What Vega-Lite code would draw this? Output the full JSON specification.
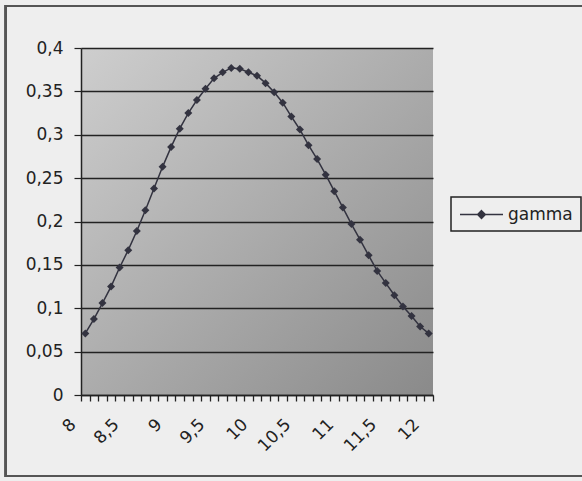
{
  "$schema": "https://vega.github.io/schema/vega-lite/v6.json",
  "autosize": {"type": "none"},
  "width": 352,
  "height": 347,
  "padding": {"left": 81, "top": 48, "right": 149, "bottom": 86},
  "background": "#eeeeee",
  "config": {
    "font": "DejaVu Sans",
    "view": {
      "stroke": null,
      "fill": {"gradient": "linear", "x1": 0, "y1": 0, "x2": 1, "y2": 1,
        "stops": [{"offset": 0, "color": "#cecece"}, {"offset": 1, "color": "#8a8a8a"}]}
    },
    "axis": {
      "labelFont": "DejaVu Sans",
      "labelFontSize": 17,
      "labelColor": "#222222",
      "domainColor": "#222222",
      "domainWidth": 1.5,
      "tickColor": "#222222",
      "tickWidth": 1.2,
      "title": null
    }
  },
  "data": {
    "values": [
      {"x": 8.0, "y": 0.071, "series": "gamma"},
      {"x": 8.1, "y": 0.0875, "series": "gamma"},
      {"x": 8.2, "y": 0.106, "series": "gamma"},
      {"x": 8.3, "y": 0.125, "series": "gamma"},
      {"x": 8.4, "y": 0.147, "series": "gamma"},
      {"x": 8.5, "y": 0.167, "series": "gamma"},
      {"x": 8.6, "y": 0.189, "series": "gamma"},
      {"x": 8.7, "y": 0.213, "series": "gamma"},
      {"x": 8.8, "y": 0.238, "series": "gamma"},
      {"x": 8.9, "y": 0.263, "series": "gamma"},
      {"x": 9.0, "y": 0.286, "series": "gamma"},
      {"x": 9.1, "y": 0.307, "series": "gamma"},
      {"x": 9.2, "y": 0.325, "series": "gamma"},
      {"x": 9.3, "y": 0.340, "series": "gamma"},
      {"x": 9.4, "y": 0.353, "series": "gamma"},
      {"x": 9.5, "y": 0.365, "series": "gamma"},
      {"x": 9.6, "y": 0.372, "series": "gamma"},
      {"x": 9.7, "y": 0.377, "series": "gamma"},
      {"x": 9.8, "y": 0.376, "series": "gamma"},
      {"x": 9.9, "y": 0.372, "series": "gamma"},
      {"x": 10.0, "y": 0.368, "series": "gamma"},
      {"x": 10.1, "y": 0.3595, "series": "gamma"},
      {"x": 10.2, "y": 0.349, "series": "gamma"},
      {"x": 10.3, "y": 0.337, "series": "gamma"},
      {"x": 10.4, "y": 0.321, "series": "gamma"},
      {"x": 10.5, "y": 0.306, "series": "gamma"},
      {"x": 10.6, "y": 0.288, "series": "gamma"},
      {"x": 10.7, "y": 0.272, "series": "gamma"},
      {"x": 10.8, "y": 0.254, "series": "gamma"},
      {"x": 10.9, "y": 0.235, "series": "gamma"},
      {"x": 11.0, "y": 0.216, "series": "gamma"},
      {"x": 11.1, "y": 0.197, "series": "gamma"},
      {"x": 11.2, "y": 0.179, "series": "gamma"},
      {"x": 11.3, "y": 0.161, "series": "gamma"},
      {"x": 11.4, "y": 0.143, "series": "gamma"},
      {"x": 11.5, "y": 0.129, "series": "gamma"},
      {"x": 11.6, "y": 0.115, "series": "gamma"},
      {"x": 11.7, "y": 0.102, "series": "gamma"},
      {"x": 11.8, "y": 0.091, "series": "gamma"},
      {"x": 11.9, "y": 0.079, "series": "gamma"},
      {"x": 12.0, "y": 0.071, "series": "gamma"}
    ]
  },
  "layer": [
    {
      "mark": {"type": "rect", "fillOpacity": 0, "stroke": "#555555", "strokeWidth": 2, "clip": false},
      "encoding": {
        "x": {"datum": 7.076, "type": "quantitative"},
        "x2": {"datum": 14.3},
        "y": {"datum": -0.0934, "type": "quantitative"},
        "y2": {"datum": 0.4484}
      }
    },
    {
      "mark": {"type": "line", "strokeWidth": 1.5, "point": {"shape": "diamond", "size": 64, "filled": true}},
      "encoding": {
        "x": {
          "field": "x", "type": "quantitative",
          "scale": {"domain": [7.95, 12.05], "nice": false, "zero": false},
          "axis": {
            "grid": false,
            "ticks": true,
            "tickCount": 60,
            "values": [7.95, 8.05, 8.15, 8.25, 8.35, 8.45, 8.55, 8.65, 8.75, 8.85, 8.95, 9.05, 9.15, 9.25, 9.35, 9.45, 9.55, 9.65, 9.75, 9.85, 9.95, 10.05, 10.15, 10.25, 10.35, 10.45, 10.55, 10.65, 10.75, 10.85, 10.95, 11.05, 11.15, 11.25, 11.35, 11.45, 11.55, 11.65, 11.75, 11.85, 11.95, 12.05],
            "tickSize": 6,
            "tickWidth": 1.3,
            "tickOpacity": 1,
            "tickColor": "#222222",
            "labelExpr": "abs((datum.value + 0.05) * 2 - round((datum.value + 0.05) * 2)) < 0.01 && datum.value < 12 ? replace(format(round((datum.value + 0.05) * 10) / 10, '~g'), '.', ',') : ''",
            "labelAngle": -45,
            "labelAlign": "right",
            "labelBaseline": "top",
            "labelPadding": 15,
            "labelOffset": -13.7,
            "labelOverlap": false,
            "labelFlush": false
          }
        },
        "y": {
          "field": "y", "type": "quantitative",
          "scale": {"domain": [0, 0.4], "nice": false},
          "axis": {
            "values": [0, 0.05, 0.1, 0.15, 0.2, 0.25, 0.3, 0.35, 0.4],
            "tickCount": 20,
            "grid": true,
            "gridColor": "#222222",
            "gridWidth": 1.5,
            "gridOpacity": 1,
            "tickSize": 7,
            "labelPadding": 11,
            "labelExpr": "replace(format(datum.value, '~g'), '.', ',')"
          }
        },
        "color": {
          "field": "series", "type": "nominal",
          "scale": {"range": ["#333340"]},
          "legend": {
            "title": null,
            "orient": "none",
            "legendX": 370,
            "legendY": 149,
            "strokeColor": "#222222",
            "padding": 8,
            "fillColor": "#eeeeee",
            "labelFont": "DejaVu Sans",
            "labelFontSize": 17,
            "labelColor": "#222222",
            "labelOffset": 30,
            "symbolType": "M-1,0L4.06,0M1.53,-0.45L1.98,0L1.53,0.45L1.08,0Z",
            "symbolSize": 289,
            "encode": {
              "legend": {
                "update": {
                  "strokeWidth": {"value": 1.5}
                }
              },
              "symbols": {
                "update": {
                  "fill": {"value": "#333340"},
                  "stroke": {"value": "#333340"},
                  "strokeWidth": {"value": 1.5},
                  "opacity": {"value": 1},
                  "shape": {"value": "M-1,0L4.06,0M1.53,-0.45L1.98,0L1.53,0.45L1.08,0Z"},
                  "size": {"value": 289}
                }
              }
            }
          }
        }
      }
    }
  ]
}
